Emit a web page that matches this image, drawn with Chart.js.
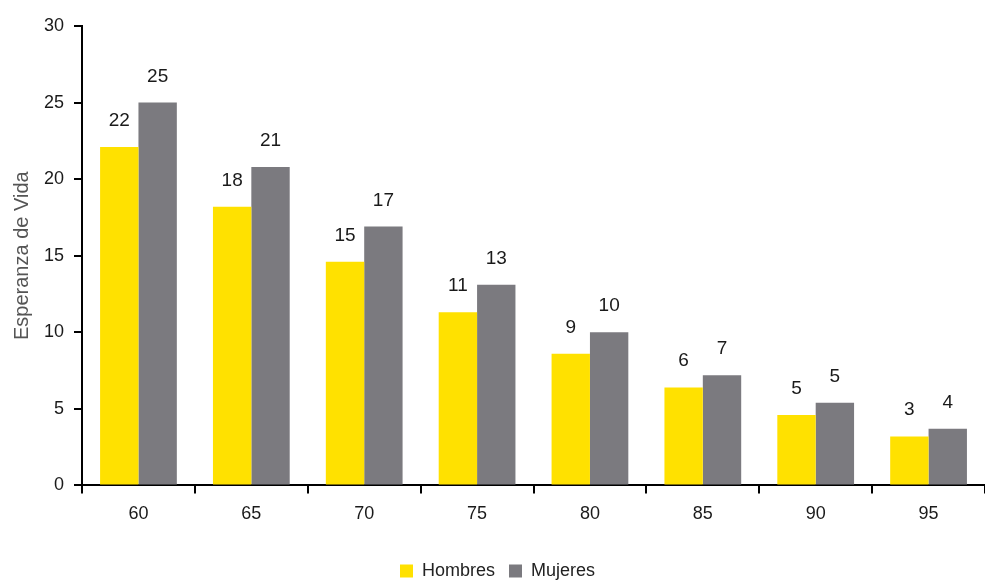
<!DOCTYPE html>
<html>
<head>
<meta charset="utf-8">
<script src="https://cdn.jsdelivr.net/npm/chart.js@4.4.0/dist/chart.umd.min.js"></script>
<style>
  body { margin: 0; background: #fff; }
  #wrap { width: 985px; height: 581px; }
</style>
</head>
<body>
<div id="wrap"><canvas id="myChart" width="985" height="581"></canvas></div>
<script>
// edades
const edades = ['60', '65', '70', '75', '80', '85', '90', '95'];
// esperanza de vida por sexo
const hombres = [22.1, 18.2, 14.6, 11.3, 8.6, 6.4, 4.6, 3.2];
const mujeres = [25.0, 20.8, 16.9, 13.1, 10.0, 7.2, 5.4, 3.7];
const yTicks = [0, 5, 10, 15, 20, 25, 30];

const fuente = '"Liberation Sans Narrow", "Liberation Sans", Arial, sans-serif';

// etiquetas sobre las barras
const etiquetas = {
    id: 'etiquetas',
    afterDatasetsDraw(chart) {
        const ctx = chart.ctx;
        ctx.save();
        ctx.font = '19px ' + fuente;
        ctx.fillStyle = '#1a1a1a';
        ctx.textAlign = 'center';
        ctx.textBaseline = 'alphabetic';
        chart.data.datasets.forEach((ds, i) => {
            chart.getDatasetMeta(i).data.forEach((bar, j) => {
                ctx.fillText(Math.round(ds.data[j]), bar.x, bar.y - 21);
            });
        });
        ctx.restore();
    }
};

const data = {
    labels: edades,
    datasets: [{
        label: 'Hombres',
        backgroundColor: '#FFE100',
        data: hombres,
    }, {
        label: 'Mujeres',
        backgroundColor: '#7B7A7F',
        data: mujeres,
    }]
};

const config = {
    type: 'bar',
    data: data,
    options: {
        responsive: false,
        animation: false,
        categoryPercentage: 0.68,
        barPercentage: 1,
        layout: { padding: { top: 26, right: 0, left: 10, bottom: -9 } },
        plugins: {
            tooltip: { enabled: false },
            legend: {
                position: 'bottom',
                labels: {
                    font: { family: fuente, size: 18 },
                    color: '#222',
                    boxWidth: 13,
                    boxHeight: 13,
                    padding: 14,
                }
            }
        },
        scales: {
            x: {
                grid: { drawOnChartArea: false, color: '#000', lineWidth: 2, tickLength: 8 },
                border: { color: '#000', width: 2 },
                ticks: { font: { family: fuente, size: 18 }, color: '#1a1a1a', padding: 10 },
                afterFit: (axis) => { axis.height += 13; }
            },
            y: {
                min: 0,
                max: 30,
                afterBuildTicks: (axis) => { axis.ticks = yTicks.map(v => ({ value: v })); },
                grid: { drawOnChartArea: false, color: '#000', lineWidth: 2, tickLength: 8 },
                border: { color: '#000', width: 2 },
                ticks: { font: { family: fuente, size: 18 }, color: '#1a1a1a', padding: 10 },
                title: {
                    display: true,
                    text: 'Esperanza de Vida',
                    font: { family: fuente, size: 20 },
                    color: '#555',
                    padding: { top: 0, bottom: 0 }
                }
            }
        }
    },
    plugins: [etiquetas]
};

const myChart = new Chart(document.getElementById('myChart'), config);
</script>
</body>
</html>
